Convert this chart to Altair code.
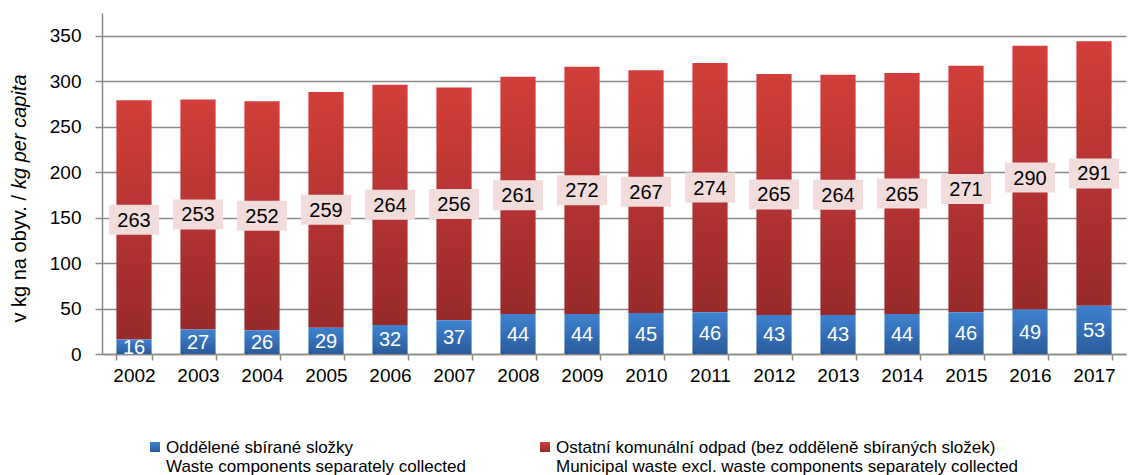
import altair as alt
import pandas as pd

years = [str(y) for y in range(2002, 2018)]
separate = [16, 27, 26, 29, 32, 37, 44, 44, 45, 46, 43, 43, 44, 46, 49, 53]
other = [263, 253, 252, 259, 264, 256, 261, 272, 267, 274, 265, 264, 265, 271, 290, 291]

df = pd.DataFrame({"year": years, "sep": separate, "other": other})

FONT = "Liberation Sans"
W, H = 1024, 341

xenc = alt.X("year:N", sort=years, title=None,
             scale=alt.Scale(paddingInner=0.45, paddingOuter=0.225),
             axis=alt.Axis(labelAngle=0, labelFontSize=19, labelFont=FONT, labelColor="#000",
                           labelPadding=6, tickBand="extent", tickSize=6, tickColor="#8a8a8a",
                           tickWidth=1.5, domainColor="#8a8a8a", domainWidth=1.5))
yscale = alt.Scale(domain=[0, 375], nice=False)
yaxis = alt.Axis(values=[0, 50, 100, 150, 200, 250, 300, 350], title=None,
                 labelFontSize=19, labelFont=FONT, labelColor="#000", labelPadding=14,
                 tickSize=7, tickColor="#8a8a8a", tickWidth=1.5, grid=True,
                 gridColor="#8a8a8a", gridWidth=1.5, domainColor="#8a8a8a", domainWidth=1.5)

base = alt.Chart(df).transform_calculate(
    total="datum.sep + datum.other",
    redmid="datum.sep + datum.other / 2",
    bluemid="datum.sep / 2",
)

red_grad = alt.LinearGradient(gradient="linear", x1=0, x2=0, y1=0, y2=1,
                              stops=[alt.GradientStop(color="#d33e3b", offset=0),
                                     alt.GradientStop(color="#982a2a", offset=1)])
blue_grad = alt.LinearGradient(gradient="linear", x1=0, x2=0, y1=0, y2=1,
                               stops=[alt.GradientStop(color="#3f82d0", offset=0),
                                      alt.GradientStop(color="#2b5c9c", offset=1)])

blue = base.mark_bar(color=blue_grad).encode(
    x=xenc, y=alt.Y("sep:Q", scale=yscale, axis=yaxis))
red = base.mark_bar(color=red_grad).encode(
    x=xenc, y=alt.Y("total:Q", scale=yscale, axis=yaxis), y2="sep:Q")

box = base.mark_point(
    shape="M-1,-0.6L1,-0.6L1,0.6L-1,0.6Z", filled=True, opacity=1,
    color="#f2dcdb", size=2500, strokeWidth=0
).encode(x=xenc, y=alt.Y("redmid:Q", scale=yscale, axis=yaxis))

red_txt = base.mark_text(font=FONT, fontSize=20, color="#000", baseline="middle", dy=1).encode(
    x=xenc, y=alt.Y("redmid:Q", scale=yscale, axis=yaxis), text="other:Q")
blue_txt = base.mark_text(font=FONT, fontSize=20, color="#fff", baseline="middle", dy=1).encode(
    x=xenc, y=alt.Y("bluemid:Q", scale=yscale, axis=yaxis), text="sep:Q")

# y-axis title in two styles
t1 = alt.Chart(pd.DataFrame({"t": ["v kg na obyv. /"]})).mark_text(
    font=FONT, fontSize=20, angle=270, align="right", baseline="middle", color="#000"
).encode(text="t:N", x=alt.value(-82), y=alt.value(182))
t2 = alt.Chart(pd.DataFrame({"t": ["kg per capita"]})).mark_text(
    font=FONT, fontSize=20, angle=270, align="left", baseline="middle", color="#000",
    fontStyle="italic"
).encode(text="t:N", x=alt.value(-82), y=alt.value(176))

# legend
leg_sym_b = alt.Chart(pd.DataFrame({"a": [1]})).mark_square(
    size=100, color=blue_grad, opacity=1).encode(x=alt.value(53), y=alt.value(434))
leg_sym_r = alt.Chart(pd.DataFrame({"a": [1]})).mark_square(
    size=100, color=red_grad, opacity=1).encode(x=alt.value(443), y=alt.value(434))
leg_b1 = alt.Chart(pd.DataFrame({"t": ["Oddělené sbírané složky"]})).mark_text(
    font=FONT, fontSize=17, align="left", baseline="middle", color="#000"
).encode(text="t:N", x=alt.value(64), y=alt.value(435))
leg_b2 = alt.Chart(pd.DataFrame({"t": ["Waste components separately collected"]})).mark_text(
    font=FONT, fontSize=17, align="left", baseline="middle", color="#000"
).encode(text="t:N", x=alt.value(64), y=alt.value(454))
leg_r1 = alt.Chart(pd.DataFrame({"t": ["Ostatní komunální odpad (bez odděleně sbíraných složek)"]})).mark_text(
    font=FONT, fontSize=17, align="left", baseline="middle", color="#000"
).encode(text="t:N", x=alt.value(454), y=alt.value(435))
leg_r2 = alt.Chart(pd.DataFrame({"t": ["Municipal waste excl. waste components separately collected"]})).mark_text(
    font=FONT, fontSize=17, align="left", baseline="middle", color="#000"
).encode(text="t:N", x=alt.value(454), y=alt.value(454))

chart = alt.layer(
    red, blue, box, red_txt, blue_txt, t1, t2,
    leg_sym_b, leg_sym_r, leg_b1, leg_b2, leg_r1, leg_r2
).properties(
    width=W, height=H,
    padding={"left": 2, "top": 5, "right": 3, "bottom": 2},
    background="white",
).configure_view(stroke=None)

chart.save("out.html", embed_options={"renderer": "svg", "actions": False})
